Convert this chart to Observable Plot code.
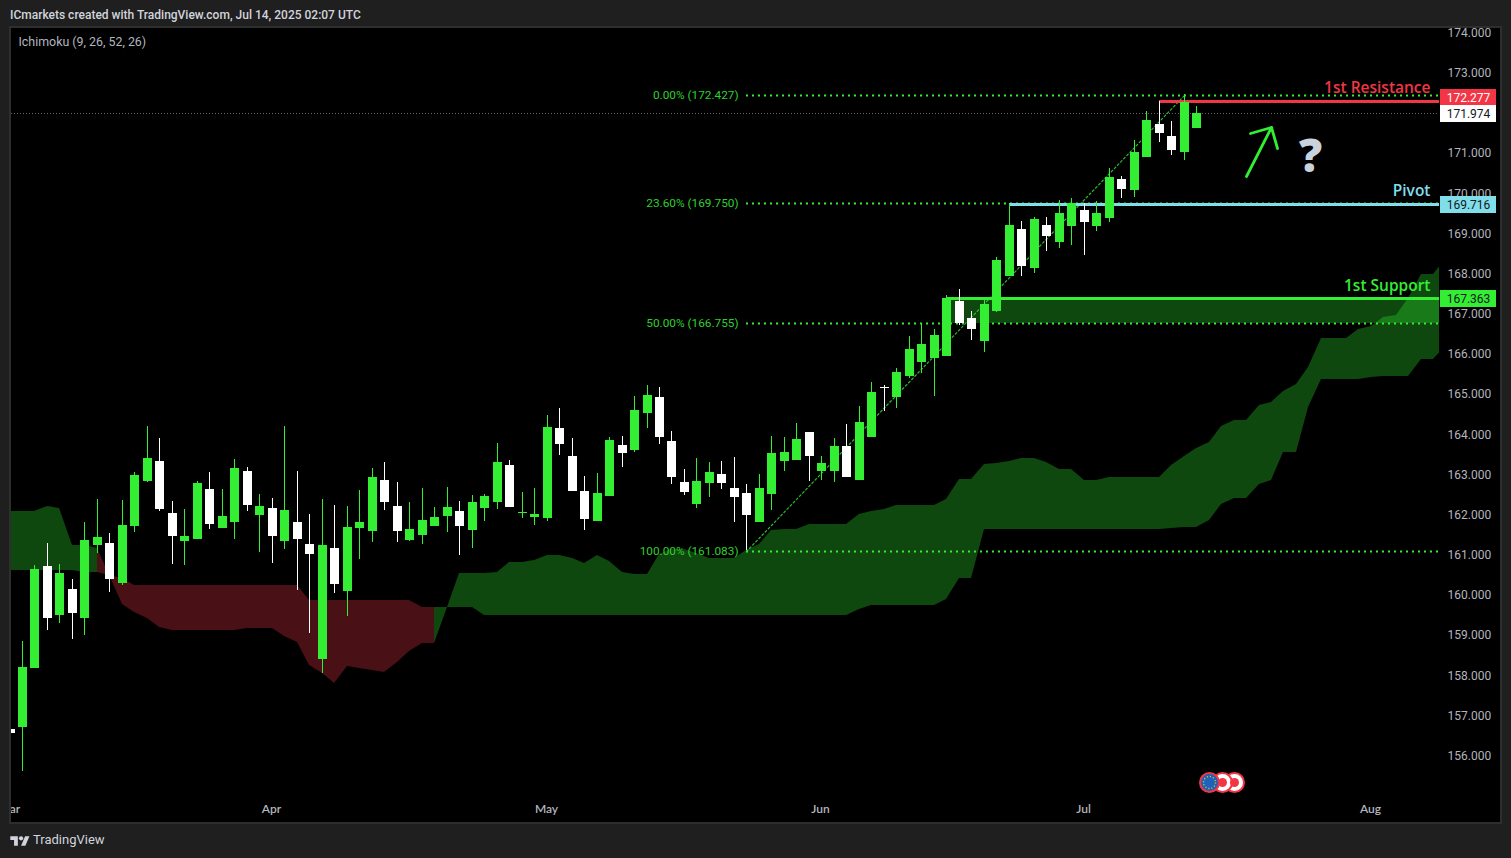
<!DOCTYPE html>
<html><head><meta charset="utf-8">
<script src="https://cdn.jsdelivr.net/npm/d3@7"></script>
<script src="https://cdn.jsdelivr.net/npm/@observablehq/plot@0.6"></script>
<style>
html,body{margin:0;padding:0;background:#1f1f1f;width:1511px;height:858px;overflow:hidden}
#pane{position:absolute;left:9px;top:26px;width:1489px;height:794px;background:#000;border:2px solid #2e2e2e}
#chart{position:absolute;left:0;top:0}
#head{position:absolute;left:10px;top:8px;font:500 12px Roboto,sans-serif;color:#d1d4dc;white-space:nowrap}
#foot{position:absolute;left:33px;top:832px;font:400 13px Roboto,sans-serif;color:#d1d4dc}
#logo{position:absolute;left:10px;top:834px}
</style></head><body>
<div id="pane"></div><div id="chart"></div>
<div id="head">ICmarkets created with TradingView.com, Jul 14, 2025 02:07 UTC</div>
<svg id="logo" width="20" height="14" viewBox="0 0 36 26"><path fill="#d1d4dc" d="M14 22H7V11H0V4h14v18zM28 22h-8l7.5-18h8L28 22z"/><circle fill="#d1d4dc" cx="20" cy="8" r="4"/></svg>
<div id="foot">TradingView</div>
<script>
// Daily bars: index -1 = 3 Mar 2025 ... index 94 = 14 Jul 2025
const open = [156.64,156.69,158.16,160.70,159.48,160.13,159.41,161.23,161.28,160.28,
161.70,162.82,163.32,162.02,161.33,161.38,162.62,161.65,161.80,163.07,
161.97,162.15,161.33,161.80,161.25,158.39,161.15,160.08,161.65,161.57,
162.84,162.20,161.35,161.48,161.70,161.95,162.07,161.60,162.15,162.30,
163.22,162.02,161.92,161.90,164.14,163.44,162.57,161.82,162.45,163.72,
163.59,164.51,164.91,163.82,162.80,162.25,162.77,162.99,162.65,162.52,
161.80,162.50,163.32,163.34,164.04,163.07,163.07,163.69,162.84,163.92,
165.16,164.91,165.43,165.78,165.88,165.93,167.30,166.88,166.31,167.05,
167.92,169.09,168.12,169.19,168.77,169.17,169.57,169.17,169.37,170.34,
170.07,170.89,171.71,171.41,171.01,171.61];
const high = [156.64,158.84,160.73,161.28,160.75,160.38,161.80,162.37,161.53,162.35,
163.04,164.19,163.89,162.32,162.12,162.82,163.04,162.62,163.37,163.17,
162.50,162.40,164.19,163.07,162.00,162.37,162.22,162.20,162.60,163.14,
163.29,162.80,162.30,162.65,162.17,162.67,162.32,162.47,162.50,163.77,
163.34,162.55,162.65,164.46,164.64,163.89,162.94,163.02,163.92,163.94,
164.94,165.21,165.16,164.06,163.12,163.39,163.29,163.32,163.42,162.75,
162.99,163.94,163.92,164.26,164.04,163.44,163.89,164.24,164.69,165.29,
165.21,165.63,166.43,166.75,166.60,167.45,167.60,167.05,167.33,168.40,
169.72,169.29,169.39,169.39,169.82,169.87,169.74,169.79,170.61,170.41,
171.31,172.03,172.28,171.78,172.46,172.16];
const low = [156.55,155.60,158.16,159.11,159.28,158.89,158.99,161.03,160.06,160.23,
161.55,162.80,162.07,160.75,160.73,161.38,161.62,161.65,161.38,162.07,
161.05,160.78,161.13,160.11,159.03,158.04,160.03,159.46,160.88,161.30,
162.10,161.30,161.33,161.25,161.70,161.55,160.98,161.15,161.82,162.12,
162.17,161.90,161.72,161.82,163.47,162.57,161.60,161.82,162.45,163.17,
163.54,164.14,163.74,162.75,162.47,162.15,162.42,162.62,161.80,161.10,
161.80,162.10,163.07,163.34,162.82,162.84,162.80,162.92,162.84,163.92,
164.56,164.64,165.38,165.51,164.94,165.93,166.70,166.33,166.03,167.03,
167.92,167.92,168.00,168.55,168.62,168.70,168.45,169.04,169.27,169.87,
169.89,170.89,171.26,170.94,170.81,171.61];
const close = [156.55,158.19,160.63,159.41,160.53,159.53,161.35,161.43,160.38,161.72,
162.97,163.39,162.12,161.45,161.45,162.77,161.75,161.95,163.14,162.22,
162.20,161.45,162.10,161.38,161.00,161.23,160.25,161.67,161.80,162.92,
162.30,161.57,161.62,161.85,161.92,162.17,161.70,162.30,162.45,163.29,
162.17,162.05,162.00,164.16,163.74,162.57,161.87,162.52,163.84,163.52,
164.59,164.96,163.92,162.92,162.55,162.82,163.04,162.77,162.42,161.97,
162.65,163.52,163.54,163.87,163.44,163.27,163.69,162.92,164.29,165.04,
165.14,165.53,166.11,166.23,166.46,167.38,166.75,166.60,167.23,168.32,
169.19,168.17,169.34,168.92,169.49,169.74,169.27,169.49,170.39,170.09,
171.01,171.81,171.48,171.06,172.26,171.98];

// Ichimoku leading spans, bar index -1 ... 114
const senkouA = [162.07,162.07,162.07,162.20,162.15,161.23,161.23,161.15,160.48,159.76,
159.56,159.41,159.18,159.11,159.11,159.11,159.11,159.11,159.11,159.16,
159.16,159.16,158.96,158.81,158.24,158.04,157.79,158.21,158.16,158.11,
158.06,158.31,158.59,158.79,158.79,159.68,160.53,160.53,160.53,160.55,
160.80,160.80,160.85,160.98,160.98,160.90,160.78,160.98,160.83,160.55,
160.50,160.50,161.00,161.13,161.13,161.03,160.90,160.90,160.90,161.10,
161.25,161.60,161.62,161.62,161.75,161.75,161.75,161.75,162.00,162.07,
162.12,162.22,162.22,162.22,162.22,162.37,162.87,162.87,163.24,163.27,
163.32,163.39,163.39,163.29,163.12,163.12,162.84,162.84,162.92,162.92,
162.92,162.92,162.92,163.22,163.44,163.64,163.79,164.19,164.34,164.34,
164.71,164.79,165.06,165.24,165.66,166.38,166.38,166.38,166.60,166.68,
166.90,166.95,167.38,167.97,167.97,168.37];
const senkouB = [160.60,160.60,160.60,160.60,160.60,160.60,160.55,160.55,160.48,160.40,
160.23,160.23,160.23,160.23,160.23,160.23,160.23,160.23,160.23,160.23,
160.23,160.23,160.23,160.23,159.86,159.86,159.86,159.86,159.86,159.86,
159.86,159.86,159.86,159.68,159.68,159.68,159.68,159.68,159.48,159.48,
159.48,159.48,159.48,159.48,159.48,159.48,159.48,159.48,159.48,159.48,
159.48,159.48,159.48,159.48,159.48,159.48,159.48,159.48,159.48,159.48,
159.48,159.48,159.48,159.48,159.48,159.48,159.48,159.48,159.63,159.73,
159.73,159.73,159.73,159.73,159.73,159.88,160.40,160.40,161.62,161.62,
161.62,161.62,161.62,161.62,161.62,161.62,161.62,161.62,161.62,161.62,
161.62,161.62,161.62,161.65,161.67,161.67,161.85,162.25,162.40,162.40,
162.75,162.84,163.54,163.54,164.66,165.36,165.36,165.36,165.36,165.41,
165.43,165.43,165.43,165.86,165.86,166.21];

const fibLabels = ["0.00% (172.427)","23.60% (169.750)","50.00% (166.755)","100.00% (161.083)"];
const fibPrices = [172.427,169.750,166.755,161.083];
const fibStartBar = 58, fibEndBar = 93;

const levelNames = ["1st Resistance","Pivot","1st Support"];
const levelPrices = [172.277,169.716,167.363];
const levelStartBars = [91,79,74];
const levelColors = ["#f23645","#80deea","#33ee33"];

const lastPrice = 171.974;
const tagTexts = ["172.277","171.974","169.716","167.363"];
const tagPrices = [172.39,171.974,169.716,167.38];
const tagFills = ["#f23645","#ffffff","#80deea","#33ee33"];
const tagInks = ["#ffffff","#131722","#131722","#131722"];

const monthLabels = ["Mar","Apr","May","Jun","Jul","Aug"];
const monthBars = [-1,20,42,64,85,108];
const priceTicks = [156,157,158,159,160,161,162,163,164,165,166,167,168,169,170,171,172,173,174];

const arrowPaths = [
  {z:"stem",i:97.97,p:170.42},{z:"stem",i:99.97,p:171.64},
  {z:"head",i:98.33,p:171.48},{z:"head",i:99.97,p:171.64},{z:"head",i:100.49,p:171.12}
];
const eventBars = [97.04,96.04];
const euBar = 95.03;
const eventPrice = 155.33;

const barsT = open.map((o,k)=>({i:k-1,o,h:high[k],l:low[k],c:close[k],up:close[k]>=o && k>0}));
const cloud = senkouA.map((a,k)=>({i:k-1,a,b:senkouB[k]}));
const cloudGreen1 = cloud.filter(d=>d.i<=6);
const cloudRed = cloud.filter(d=>d.i>=6 && d.i<=33);
const cloudGreen2 = cloud.filter(d=>d.i>=33);
const fibs = fibPrices.map((p,k)=>({p,t:fibLabels[k]}));
const levels = levelPrices.map((p,k)=>({p,t:levelNames[k],s:levelStartBars[k],c:levelColors[k]}));
const tags = tagPrices.map((p,k)=>({p,t:tagTexts[k],f:tagFills[k],ink:tagInks[k]}));
const months = monthLabels.map((t,k)=>({t,i:monthBars[k]}));

const RIGHT = 113.45, GREEN = "#33ee33", F = "Roboto, sans-serif";

const chart = Plot.plot({
  width:1511, height:858,
  marginLeft:11, marginRight:72, marginTop:28, marginBottom:36,
  style:{background:"transparent"},
  x:{domain:[-0.8807,RIGHT],axis:null,round:true},
  y:{domain:[154.329,174.1],round:true},
  marks:[
    Plot.areaY(cloudGreen1,{x:"i",y1:"a",y2:"b",fill:GREEN,fillOpacity:0.3,clip:true}),
    Plot.areaY(cloudRed,{x:"i",y1:"a",y2:"b",fill:"#f23645",fillOpacity:0.3,clip:true}),
    Plot.areaY(cloudGreen2,{x:"i",y1:"a",y2:"b",fill:GREEN,fillOpacity:0.3,clip:true}),
    // zone between 1st support and the 50% retracement
    Plot.rect([{x1:levelStartBars[2],x2:RIGHT,y1:fibPrices[2],y2:levelPrices[2]}],{x1:"x1",x2:"x2",y1:"y1",y2:"y2",fill:GREEN,fillOpacity:0.3}),
    Plot.ruleY([lastPrice],{x1:-0.88,x2:RIGHT,stroke:"#666",strokeWidth:1,strokeDasharray:"1 2"}),
    Plot.ruleY(fibs,{y:"p",x1:fibStartBar,x2:RIGHT,stroke:GREEN,strokeWidth:2,strokeDasharray:"2 4"}),
    Plot.line([{i:fibStartBar,p:fibPrices[3]},{i:fibEndBar,p:fibPrices[0]}],{x:"i",y:"p",stroke:GREEN,strokeWidth:1.2,strokeOpacity:0.8,strokeDasharray:"2 2.5"}),
    Plot.ruleY(levels.slice(0,2),{y:"p",x1:"s",x2:RIGHT,stroke:"c",strokeWidth:3}),
    Plot.ruleY(levels.slice(2),{y:"p",x1:"s",x2:RIGHT,stroke:"c",strokeWidth:3,dy:-1}),
    // candles
    Plot.ruleX(barsT,{x:"i",y1:"l",y2:"h",stroke:d=>d.up?GREEN:"#ffffff",strokeWidth:1,clip:true}),
    Plot.ruleX(barsT,{x:"i",y1:"o",y2:"c",stroke:d=>d.up?GREEN:"#ffffff",strokeWidth:9,clip:true}),
    // fib labels
    Plot.text(fibs,{x:()=>fibStartBar,y:"p",text:"t",textAnchor:"end",dx:-8,fill:"#2ed02e",fontSize:11.8,fontFamily:F}),
    // level labels
    Plot.text(levels,{x:()=>RIGHT,y:"p",text:"t",textAnchor:"end",dx:-9,dy:-13,fill:"c",fontSize:15.5,fontWeight:600,fontFamily:"'Open Sans', sans-serif"}),
    // axes
    Plot.axisY({anchor:"right",ticks:priceTicks,tickFormat:".3f",tickSize:0,tickPadding:8,label:null,fill:"#b2b5be",fontSize:12,fontFamily:F,stroke:"none",dy:0.5}),
    Plot.ruleY(tags,{y:"p",x1:()=>113.53,x2:()=>118.02,stroke:"f",strokeWidth:17}),
    Plot.text(tags,{x:()=>115.77,y:"p",text:"t",fill:"ink",fontSize:12,fontFamily:F,dy:0.5}),
    Plot.text(months,{x:"i",text:"t",frameAnchor:"bottom",dy:-10,dx:-1,fill:"#b2b5be",fontSize:12,fontWeight:600,fontFamily:"Lato, sans-serif",clip:true}),
    Plot.text(["Ichimoku (9, 26, 52, 26)"],{frameAnchor:"top-left",dx:7,dy:9,fill:"#b2b5be",fontSize:12.4,fontFamily:F}),
    // drawn arrow and question mark
    Plot.line(arrowPaths,{x:"i",y:"p",z:"z",stroke:GREEN,strokeWidth:2.8,strokeLinecap:"round",strokeLinejoin:"round"}),
    Plot.text(["?"],{x:()=>103.1,y:()=>170.88,fill:"#c8d3dc",fontSize:46,fontWeight:800,fontFamily:"'Open Sans', sans-serif"}),
    // economic event badges
    Plot.dot(eventBars,{x:d=>d,y:()=>eventPrice,r:9.5,fill:"#fff",stroke:"#f23645",strokeWidth:2}),
    Plot.dot(eventBars,{x:d=>d,y:()=>eventPrice,r:4.5,fill:"#f23645"}),
    Plot.dot([euBar],{x:d=>d,y:()=>eventPrice,r:9.5,fill:"#1e63b8",stroke:"#f23645",strokeWidth:2}),
    Plot.dot([euBar],{x:d=>d,y:()=>eventPrice,r:6,fill:"none",stroke:"#d9c13a",strokeWidth:1.3,strokeDasharray:"1.2 1.9"})
  ]
});
document.getElementById("chart").appendChild(chart);
</script>
</body></html>
